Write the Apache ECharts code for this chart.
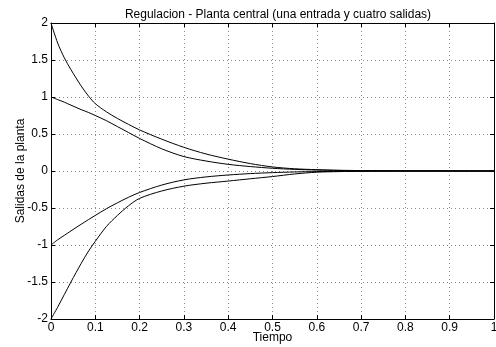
<!DOCTYPE html>
<html>
<head>
<meta charset="utf-8">
<script src="https://cdn.jsdelivr.net/npm/echarts@6/dist/echarts.min.js"></script>
<style>
html,body{margin:0;padding:0;background:#fff;}
#chart{width:496px;height:347px;}
</style>
</head>
<body>
<div id="chart"></div>
<script>
const titleText = 'Regulacion - Planta central (una entrada y cuatro salidas)';
const xName = 'Tiempo';
const yName = 'Salidas de la planta';
const xTickLabels = ['0','0.1','0.2','0.3','0.4','0.5','0.6','0.7','0.8','0.9','1'];
const yTickLabels = ['-2','-1.5','-1','-0.5','0','0.5','1','1.5','2'];

const tiempo = [0, 0.015, 0.03, 0.045, 0.068, 0.085, 0.1, 0.125, 0.15, 0.175, 0.2, 0.25, 0.3, 0.35, 0.4, 0.45, 0.5, 0.55, 0.6, 0.65, 0.7, 0.8, 0.9, 1.0];
const salida1 = [2, 1.73, 1.53, 1.37, 1.15, 1.01, 0.91, 0.80, 0.71, 0.63, 0.555, 0.43, 0.32, 0.23, 0.16, 0.10, 0.055, 0.03, 0.018, 0.01, 0.006, 0.002, 0.001, 0];
const salida2 = [1, 0.965, 0.93, 0.89, 0.83, 0.79, 0.75, 0.68, 0.60, 0.52, 0.44, 0.30, 0.195, 0.135, 0.09, 0.06, 0.037, 0.022, 0.013, 0.007, 0.004, 0.001, 0, 0];
const salida3 = [-1, -0.93, -0.87, -0.81, -0.72, -0.655, -0.60, -0.51, -0.43, -0.355, -0.29, -0.19, -0.12, -0.08, -0.054, -0.035, -0.022, -0.013, -0.008, -0.005, -0.003, -0.001, 0, 0];
const salida4 = [-2, -1.84, -1.67, -1.5, -1.25, -1.08, -0.95, -0.75, -0.6, -0.47, -0.37, -0.27, -0.205, -0.165, -0.136, -0.105, -0.075, -0.04, -0.016, -0.008, -0.004, -0.001, 0, 0];

const seriesData = [salida1, salida2, salida3, salida4];
const font = 'Liberation Sans, Arial, Helvetica, sans-serif';

function fmtX(v){ const i = Math.round(v*10); return xTickLabels[i] !== undefined ? xTickLabels[i] : ''; }
function fmtY(v){ const i = Math.round((v+2)*2); return yTickLabels[i] !== undefined ? yTickLabels[i] : ''; }

const chart = echarts.init(document.getElementById('chart'), null, {renderer:'canvas'});
const axisCommon = {
  type: 'value',
  axisLine: {show: true, onZero: false, lineStyle: {color: '#000', width: 1}},
  axisTick: {show: true, inside: true, length: 4, lineStyle: {color: '#000', width: 1}},
  splitLine: {show: false},
  axisLabel: {show: false}
};
chart.setOption({
  animation: false,
  backgroundColor: '#fff',
  title: {
    text: titleText, left: 273, top: 4, textAlign: 'center',
    textStyle: {fontFamily: font, fontSize: 12, fontWeight: 'normal', color: '#000'}
  },
  grid: {left: 51, right: 2, top: 23, bottom: 28, containLabel: false, outerBoundsMode: 'none'},
  xAxis: [
    Object.assign({}, axisCommon, {
      position: 'bottom', min: 0, max: 1, interval: 0.1,
      name: xName, nameLocation: 'middle', nameGap: 19, nameMoveOverlap: false,
      nameTextStyle: {fontFamily: font, fontSize: 12, color: '#000', verticalAlign: 'middle'},
      axisLabel: {show: true, margin: 3, formatter: fmtX, fontFamily: font, fontSize: 12, color: '#000', hideOverlap: false},
      splitLine: {show: true, lineStyle: {color: '#8a8a8a', type: [1, 3], width: 1}}
    }),
    Object.assign({}, axisCommon, {position: 'top', min: 0, max: 1, interval: 0.1})
  ],
  yAxis: [
    Object.assign({}, axisCommon, {
      position: 'left', min: -2, max: 2, interval: 0.5,
      name: yName, nameLocation: 'middle', nameGap: 30, nameRotate: 90, nameMoveOverlap: false,
      nameTextStyle: {fontFamily: font, fontSize: 12, color: '#000', verticalAlign: 'middle'},
      axisLabel: {show: true, margin: 3, formatter: fmtY, fontFamily: font, fontSize: 12, color: '#000', hideOverlap: false},
      splitLine: {show: true, lineStyle: {color: '#8a8a8a', type: [1, 3], width: 1}}
    }),
    Object.assign({}, axisCommon, {position: 'right', min: -2, max: 2, interval: 0.5})
  ],
  series: seriesData.map(function(vals){
    return {
      type: 'line', xAxisIndex: 0, yAxisIndex: 0,
      data: tiempo.map(function(t, i){ return [t, vals[i]]; }),
      showSymbol: false, symbol: 'none',
      smooth: 0.3,
      lineStyle: {color: '#000', width: 1},
      z: 3
    };
  })
});
</script>
</body>
</html>
